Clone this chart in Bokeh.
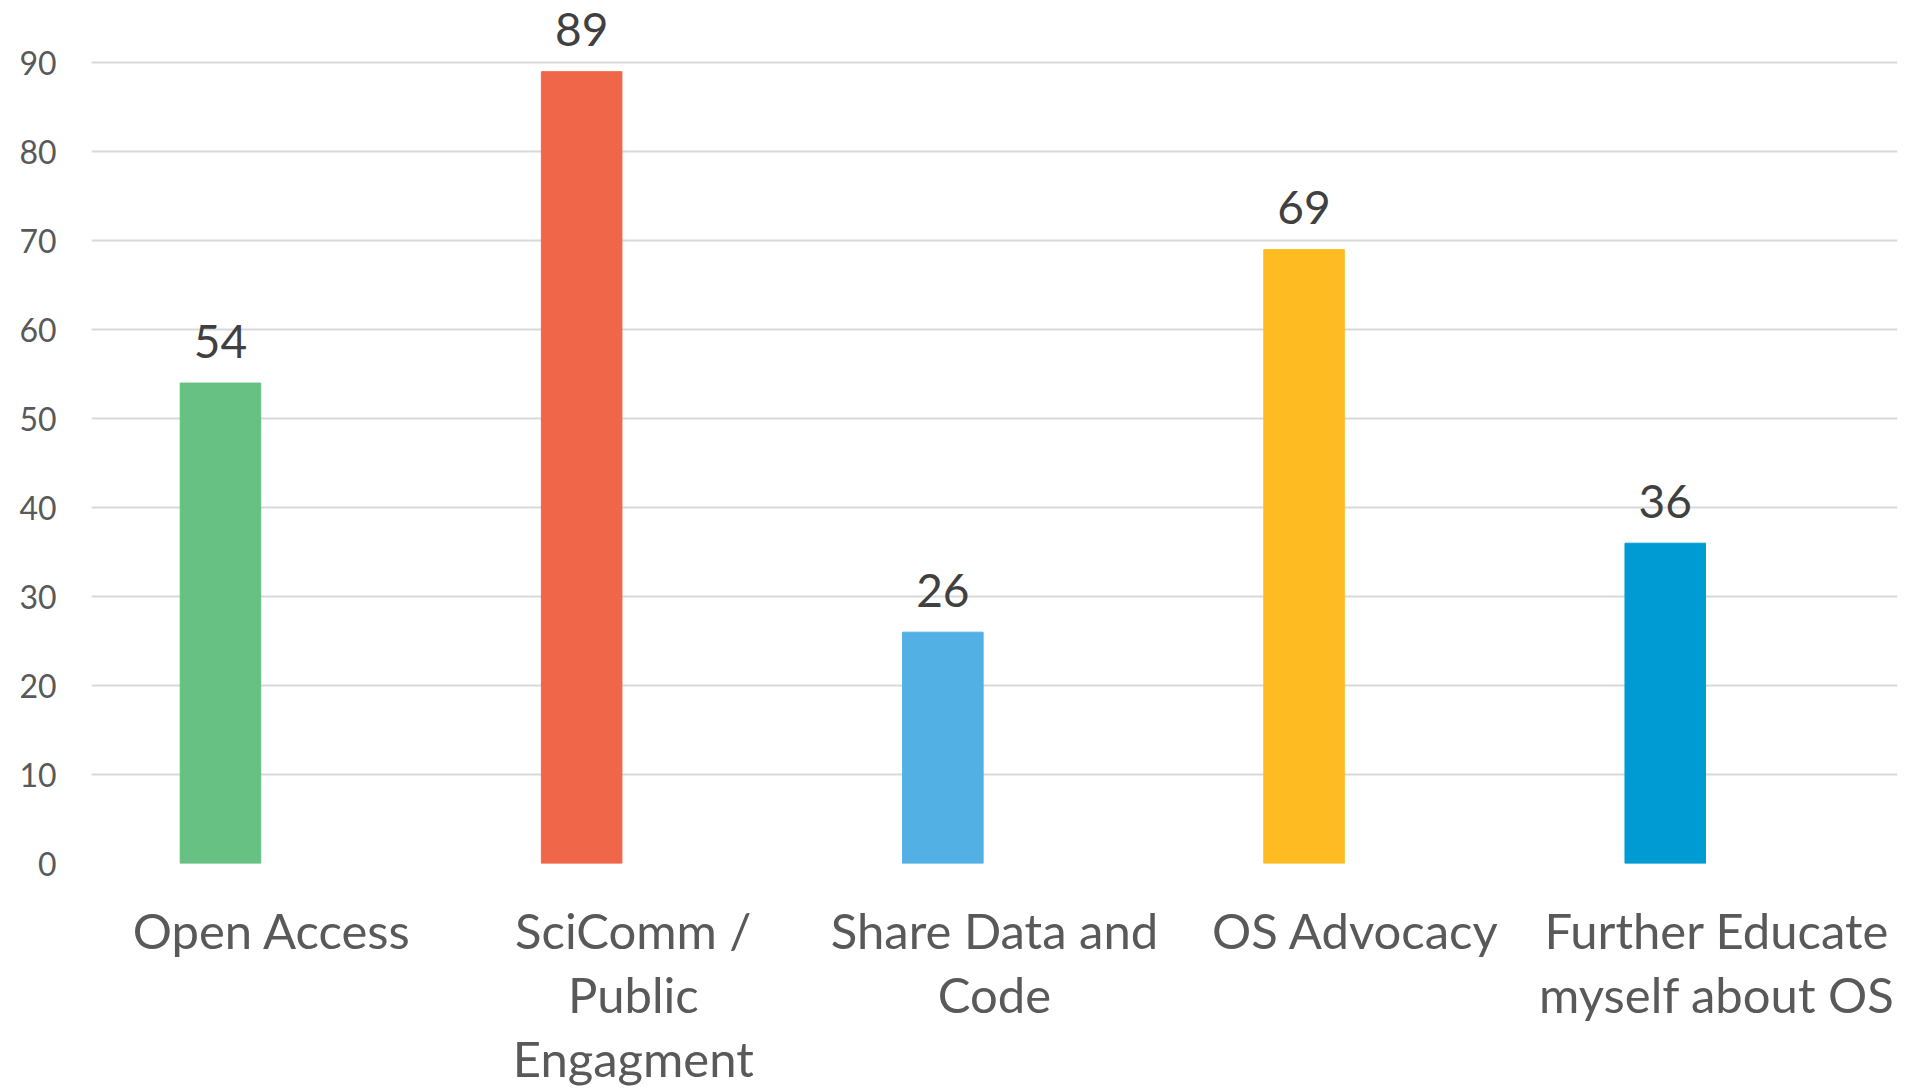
from bokeh.plotting import figure
from bokeh.models import (FactorRange, Range1d, FixedTicker, ColumnDataSource,
                          CategoricalAxis, CustomJSTickFormatter)
from bokeh.transform import dodge
from bokeh.core.properties import value
from bokeh.embed import file_html
from bokeh.resources import INLINE

# ---- data ----
categories = ["Open Access", "SciComm / Public Engagment", "Share Data and Code",
              "OS Advocacy", "Further Educate myself about OS"]
counts = [54, 89, 26, 69, 36]
bar_colors = ["#66C182", "#EF6649", "#52B0E5", "#FFBC22", "#009BD3"]
label_lines = [["Open Access"],
               ["SciComm /", "Public", "Engagment"],
               ["Share Data and", "Code"],
               ["OS Advocacy"],
               ["Further Educate", "myself about OS"]]
y_ticks = [0, 10, 20, 30, 40, 50, 60, 70, 80, 90]

src = ColumnDataSource(dict(cat=categories, val=counts, color=bar_colors,
                            lbl=[str(v) for v in counts]))

p = figure(x_range=FactorRange(*categories, range_padding=0),
           y_range=Range1d(0, 97.0),
           width=1916, height=1090, output_backend="svg", toolbar_location=None,
           min_border_left=91, min_border_right=19, min_border_top=0, min_border_bottom=227)
p.outline_line_color = None
p.background_fill_color = "white"
p.border_fill_color = "white"

p.vbar(x=dodge("cat", -0.143, range=p.x_range), top="val", width=0.223, bottom=0,
       color="color", source=src)
p.text(x=dodge("cat", -0.143, range=p.x_range), y="val", text="lbl", source=src,
       text_align="center", text_baseline="alphabetic", y_offset=-42,
       text_font=value("Lato"), text_font_size="46px", text_color="#404040")

# y axis
p.yaxis.ticker = FixedTicker(ticks=y_ticks)
p.yaxis.axis_line_color = None
p.yaxis.major_tick_line_color = None
p.yaxis.minor_tick_line_color = None
p.yaxis.major_tick_out = 0
p.yaxis.major_label_standoff = 35
p.yaxis.major_label_text_font = "Lato"
p.yaxis.major_label_text_font_size = "32px"
p.yaxis.major_label_text_color = "#595959"


def style_cat_axis(ax, line_idx, standoff):
    lines_k = [(lines[line_idx] if line_idx < len(lines) else "") for lines in label_lines]
    ax.formatter = CustomJSTickFormatter(
        args=dict(cats=categories, lines=lines_k),
        code="const i = cats.indexOf(tick); return i >= 0 ? lines[i] : '';")
    ax.axis_line_color = None
    ax.major_tick_line_color = None
    ax.minor_tick_line_color = None
    ax.major_tick_out = 0
    ax.major_tick_in = 0
    ax.major_label_standoff = standoff
    ax.major_label_text_font = "Lato"
    ax.major_label_text_font_size = "49px"
    ax.major_label_text_color = "#595959"
    ax.major_label_orientation = "horizontal"


# category labels: one stacked axis per text line
style_cat_axis(p.xaxis[0], 0, 37)
for k in (1, 2):
    ax = CategoricalAxis()
    style_cat_axis(ax, k, 3)
    p.add_layout(ax, "below")

p.xgrid.grid_line_color = None
p.ygrid.grid_line_color = "#D9D9D9"
p.ygrid.grid_line_width = 2

open("out.html", "w").write(file_html(p, INLINE))
